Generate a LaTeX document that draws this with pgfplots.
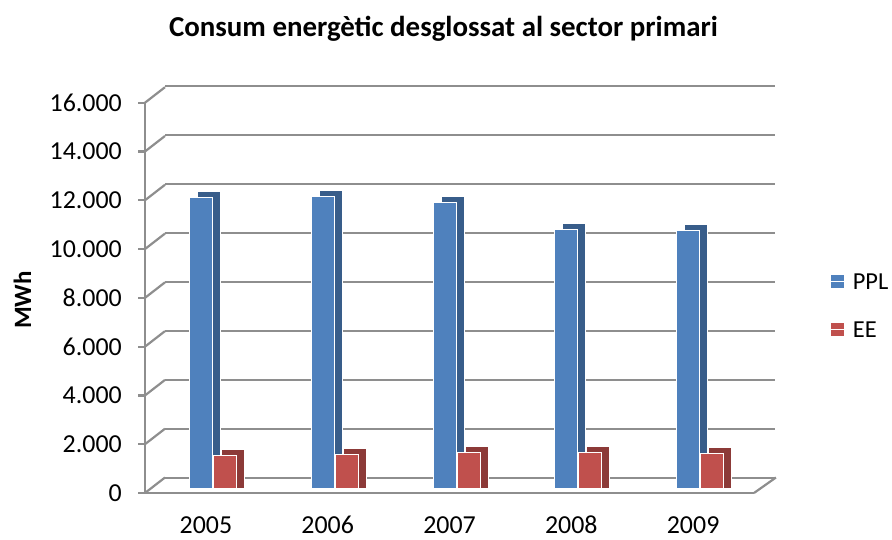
\documentclass[border=0pt]{standalone}
\usepackage{fontspec}
\setmainfont{Carlito}
\usepackage{pgfplots}
\pgfplotsset{compat=1.18}
\definecolor{ppl}{HTML}{4F81BD}
\definecolor{ee}{HTML}{C0504D}
\definecolor{ppldark}{HTML}{385D8A}
\definecolor{eedark}{HTML}{8C3A38}
\definecolor{gridgray}{HTML}{8E8E8E}
\begin{document}
\begin{tikzpicture}[x=1bp,y=1bp]
\useasboundingbox (0,0) rectangle (892,540);
% back wall gridlines
\begin{axis}[at={(165bp,62bp)}, anchor=south west, scale only axis,
  width=610bp, height=392bp, xmin=0, xmax=1, ymin=0, ymax=16000,
  axis line style={draw=none}, xtick=\empty, ytick={0,2000,...,16000},
  scaled y ticks=false,
  yticklabels={}, major tick length=0pt, ymajorgrids,
  major grid style={gridgray, line width=2.2bp}]
\end{axis}
% front axis with tick labels
\begin{axis}[at={(145bp,47bp)}, anchor=south west, scale only axis,
  width=609bp, height=390.3bp, xmin=-0.5, xmax=4.5, ymin=0, ymax=16000,
  clip=false, axis x line*=bottom, axis y line*=left,
  axis line style={gridgray, line width=2.2bp, -},
  xtick={0,1,2,3,4}, xticklabels={2005,2006,2007,2008,2009},
  x tick style={draw=none}, ytick={0,2000,...,16000}, scaled y ticks=false,
  y tick style={gridgray, line width=2.2bp}, tick align=outside,
  major tick length=7bp,
  tick label style={font=\fontsize{26}{26}\selectfont, text=black},
  yticklabel style={/pgf/number format/1000 sep={.}, /pgf/number format/assume math mode=true, anchor=east, inner sep=0pt, xshift=-16bp},
  xticklabel style={anchor=base, inner sep=0pt, yshift=-34bp}]
\addplot[gridgray, line width=2.2bp, unbounded coords=jump, forget plot] coordinates {
 (-0.5,0) (-0.336,635) (-0.5,nan)
 (-0.5,2000) (-0.336,2635) (-0.5,nan)
 (-0.5,4000) (-0.336,4635) (-0.5,nan)
 (-0.5,6000) (-0.336,6635) (-0.5,nan)
 (-0.5,8000) (-0.336,8635) (-0.5,nan)
 (-0.5,10000) (-0.336,10635) (-0.5,nan)
 (-0.5,12000) (-0.336,12635) (-0.5,nan)
 (-0.5,14000) (-0.336,14635) (-0.5,nan)
 (-0.5,16000) (-0.336,16635) (-0.5,nan)
 (4.5,0) (4.68,635)
};
\end{axis}
% bars
\begin{axis}[at={(152bp,52bp)}, anchor=south west, scale only axis,
  width=609bp, height=390.3bp, xmin=-0.5, xmax=4.5, ymin=0, ymax=16000,
  clip=false, hide axis, ybar, bar width=23bp,
  area legend,
  legend image code/.code={\fill[#1,draw=none] (0bp,-6.5bp) rectangle (13bp,6.5bp);
     \path (0bp,0bp) -- (21bp,0bp);},
  legend style={draw=none, fill=none, at={(1.115,0.468)}, anchor=west,
    inner sep=0pt, outer sep=0pt,
    font=\fontsize{24.5}{24.5}\selectfont, row sep=31bp,
    nodes={inner sep=0pt, text height=17bp, text depth=0bp, anchor=west}},
  legend cell align=left]
\addplot[ybar, bar shift=-4bp, fill=ppldark, draw=white, line width=0.8bp, forget plot]
  coordinates {(0,12146) (1,12196) (2,11946) (3,10846) (4,10796)};
\addplot[ybar, bar shift=20bp, fill=eedark, draw=white, line width=0.8bp, forget plot]
  coordinates {(0,1596) (1,1626) (2,1696) (3,1696) (4,1666)};
\addplot[ybar, bar shift=-12bp, fill=ppl, draw=white, line width=0.8bp]
  coordinates {(0,11900) (1,11950) (2,11700) (3,10600) (4,10550)};
\addplot[ybar, bar shift=12bp, fill=ee, draw=white, line width=0.8bp]
  coordinates {(0,1350) (1,1380) (2,1450) (3,1450) (4,1420)};
\legend{PPL,EE}
\end{axis}
\node[font=\bfseries\fontsize{29}{29}\selectfont, anchor=base] at (443.5,503) {Consum energètic desglossat al sector primari};
\node[rotate=90, font=\bfseries\fontsize{25}{25}\selectfont] at (22.5,240) {MWh};
\end{tikzpicture}
\end{document}
